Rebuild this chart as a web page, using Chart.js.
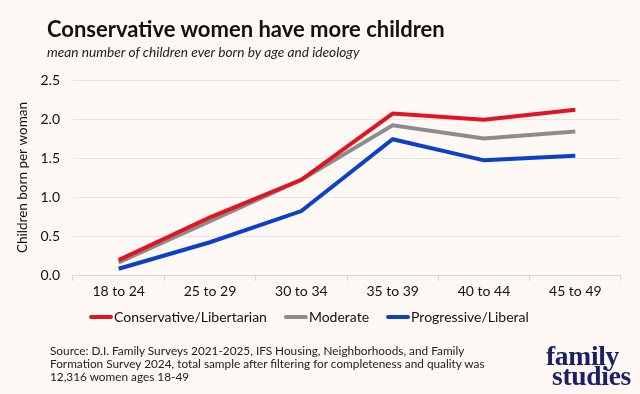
<!DOCTYPE html>
<html>
<head>
<meta charset="utf-8">
<script src="https://cdn.jsdelivr.net/npm/chart.js@4.4.1/dist/chart.umd.min.js"></script>
<style>
  html, body { margin: 0; padding: 0; background: #fdf8f4; }
  #wrap { position: relative; width: 640px; height: 394px; background: #fdf8f4; overflow: hidden; font-family: Lato, sans-serif; }
  #chart { position: absolute; left: 0; top: 0; }
  .title { position: absolute; left: 47px; top: 15px; font: bold 22px Lato, sans-serif; color: #111; white-space: nowrap; }
  .subtitle { position: absolute; left: 47px; top: 43px; font: italic 13.7px Lato, sans-serif; color: #222; white-space: nowrap; }
  .source { position: absolute; left: 50px; top: 344px; font: 11.8px Lato, sans-serif; color: #222; line-height: 13px; white-space: nowrap; }
  .logo { position: absolute; font: bold 27.5px "Liberation Serif", serif; color: #1c1f66; line-height: 25px; letter-spacing: -0.3px; white-space: nowrap; }
  .logo1 { left: 546px; top: 343px; }
  .logo2 { right: 9px; top: 363px; }
</style>
</head>
<body>
<div id="wrap">
  <canvas id="chart" width="640" height="394"></canvas>
  <div class="title">Conservative women have more children</div>
  <div class="subtitle">mean number of children ever born by age and ideology</div>
  <div class="source">Source: D.I. Family Surveys 2021-2025, IFS Housing, Neighborhoods, and Family<br>Formation Survey 2024, total sample after filtering for completeness and quality was<br>12,316 women ages 18-49</div>
  <div class="logo logo1">family</div>
  <div class="logo logo2">studies</div>
</div>
<script>
const categories = ["18 to 24", "25 to 29", "30 to 34", "35 to 39", "40 to 44", "45 to 49"];
const conservative = [0.19, 0.74, 1.22, 2.07, 1.99, 2.12];
const moderate = [0.16, 0.69, 1.22, 1.92, 1.75, 1.84];
const progressive = [0.08, 0.42, 0.82, 1.74, 1.47, 1.53];
const seriesNames = ["Conservative/Libertarian", "Moderate", "Progressive/Liberal"];
const yTicks = [0, 0.5, 1.0, 1.5, 2.0, 2.5];
const yTitle = "Children born per woman";

const colors = ["#e3131f", "#8c8c8c", "#0b40c8"];

// custom legend drawn from the chart's own datasets
const legendPlugin = {
  id: "customLegend",
  afterDraw(chart) {
    const ctx = chart.ctx;
    ctx.save();
    ctx.font = "14px Lato";
    ctx.textBaseline = "middle";
    ctx.textAlign = "left";
    let x = 89;
    const y = 317;
    chart.data.datasets.forEach(ds => {
      ctx.strokeStyle = ds.borderColor;
      ctx.lineWidth = 4;
      ctx.lineCap = "round";
      ctx.beginPath();
      ctx.moveTo(x + 2, y);
      ctx.lineTo(x + 22, y);
      ctx.stroke();
      ctx.fillStyle = "#111";
      ctx.fillText(ds.label, x + 25, y);
      x += 25 + ctx.measureText(ds.label).width + 17;
    });
    ctx.restore();
  }
};

new Chart(document.getElementById("chart"), {
  type: "line",
  data: {
    labels: categories,
    datasets: [conservative, moderate, progressive].map((d, i) => ({
      label: seriesNames[i],
      data: d,
      borderColor: colors[i],
      backgroundColor: colors[i],
      borderWidth: 4,
      pointRadius: 0,
      tension: 0,
      fill: false
    }))
  },
  plugins: [legendPlugin],
  options: {
    responsive: false,
    animation: false,
    layout: { padding: { top: 80, right: 19, bottom: 89, left: 9 } },
    plugins: {
      legend: { display: false },
      tooltip: { enabled: false }
    },
    scales: {
      x: {
        offset: true,
        afterFit: (axis) => { axis.height = 30; },
        grid: { display: true, drawOnChartArea: false, drawTicks: true, tickLength: 6, offset: true, color: "#d9d6d4" },
        border: { display: true, color: "#d9d6d4" },
        ticks: { color: "#111", font: { family: "Lato", size: 14 }, padding: 2 }
      },
      y: {
        min: 0,
        max: 2.5,
        afterFit: (axis) => { axis.width = 64; },
        afterBuildTicks: (axis) => { axis.ticks = yTicks.map(v => ({ value: v })); },
        grid: { color: "#e8e4e2", drawTicks: false },
        border: { display: false },
        ticks: { color: "#111", font: { family: "Lato", size: 14 }, padding: 13, callback: (v) => v.toFixed(1) },
        title: { display: true, text: yTitle, color: "#111", font: { family: "Lato", size: 13.5 }, padding: 6 }
      }
    }
  }
});
</script>
</body>
</html>
